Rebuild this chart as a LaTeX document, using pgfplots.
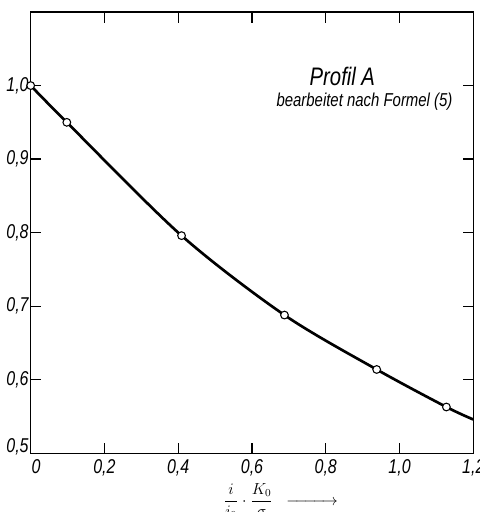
\documentclass[border=0pt]{standalone}
\usepackage{amsmath}
\usepackage{fontspec}
\setmainfont{Liberation Sans}[FakeStretch=0.8]
\usepackage{pgfplots}
\pgfplotsset{compat=1.18}
\begin{document}
\begin{tikzpicture}
\begin{axis}[
  name=ax,
  scale only axis,
  width=332pt, height=331pt,
  xmin=0, xmax=1.2, ymin=0.5, ymax=1.1,
  xtick={0.2,0.4,0.6,0.8,1.0,1.2},
  xticklabels={{0,2},{0,4},{0,6},{0,8},{1,0},{1,2}},
  ytick={0.6,0.7,0.8,0.9,1.0},
  yticklabels={{0,6},{0,7},{0,8},{0,9},{1,0}},
  extra x ticks={0}, extra x tick labels={0},
  extra x tick style={xticklabel style={xshift=4pt}},
  extra y ticks={0.5}, extra y tick labels={0{,}5},
  extra y tick style={yticklabel style={yshift=5pt}},
  xtick pos=both, ytick pos=both,
  xticklabel pos=bottom, yticklabel pos=left,
  tick align=inside,
  major tick length=8pt,
  every tick/.style={line width=1pt, black},
  axis line style={line width=1.1pt},
  tick label style={font=\fontsize{15}{18}\selectfont\itshape},
  xticklabel style={yshift=-1pt},
  yticklabel style={xshift=2pt},
  /pgf/number format/assume math mode=true,
  xlabel={$\displaystyle\frac{i}{i_0}\cdot\frac{K_0}{\sigma}\;\;\xrightarrow{\hspace{32pt}}$},
  xlabel style={font=\fontsize{12}{14}\selectfont, at={(axis description cs:0.565,0)}, anchor=north, yshift=-19pt},
  clip=false,
]
\addplot[black, line width=2pt, smooth, tension=0.5] coordinates {
(0,1.0) (0.098,0.950) (0.409,0.796) (0.688,0.688) (0.938,0.614) (1.127,0.563) (1.2,0.546)
};
\addplot[only marks, mark=*, mark size=2.9pt, mark options={fill=white, line width=0.8pt, draw=black}] coordinates {
(0,1.0) (0.098,0.950) (0.409,0.796) (0.688,0.688) (0.938,0.614) (1.127,0.563)
};
\node[font=\fontsize{19}{22}\selectfont\itshape] at (axis cs:0.845,1.012) {Profil A};
\node[font=\fontsize{14}{17}\selectfont\itshape] at (axis cs:0.905,0.978) {bearbeitet nach Formel (5)};
\end{axis}
\pgfresetboundingbox
\path ([xshift=-23pt,yshift=-44pt]ax.south west) rectangle ([xshift=4.5pt,yshift=9pt]ax.north east);
\end{tikzpicture}
\end{document}
